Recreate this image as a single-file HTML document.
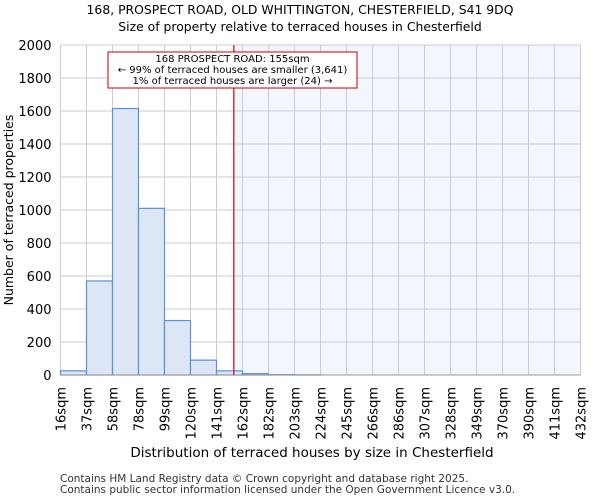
<!DOCTYPE html>
<html><head><meta charset="utf-8"><style>
body{margin:0;background:#fff;font-family:"DejaVu Sans","Liberation Sans",sans-serif;}
</style></head><body>
<svg width="600" height="500" viewBox="0 0 600 500" xmlns="http://www.w3.org/2000/svg" font-family="DejaVu Sans, Liberation Sans, sans-serif">
<text x="300" y="14" text-anchor="middle" font-size="12.4" fill="#000">168, PROSPECT ROAD, OLD WHITTINGTON, CHESTERFIELD, S41 9DQ</text>
<text x="300" y="31" text-anchor="middle" font-size="12.4" fill="#000">Size of property relative to terraced houses in Chesterfield</text>
<g id="plot"></g>
<text x="312" y="457" text-anchor="middle" font-size="13.5">Distribution of terraced houses by size in Chesterfield</text>
<text transform="translate(13,210) rotate(-90)" text-anchor="middle" font-size="12.5">Number of terraced properties</text>
<text x="60" y="482" font-size="10.5" fill="#333">Contains HM Land Registry data © Crown copyright and database right 2025.</text>
<text x="60" y="493" font-size="10.5" fill="#333">Contains public sector information licensed under the Open Government Licence v3.0.</text>
</svg>
<script>
const binLabels=["16sqm","37sqm","58sqm","78sqm","99sqm","120sqm","141sqm","162sqm","182sqm","203sqm","224sqm","245sqm","266sqm","286sqm","307sqm","328sqm","349sqm","370sqm","390sqm","411sqm","432sqm"];
const binStarts=[16,37,58,78,99,120,141,162,182,203,224,245,266,286,307,328,349,370,390,411,432];
const counts=[25,570,1615,1010,330,90,25,8,2,1,0,0,0,0,0,0,0,0,0,0];
const yTicks=[0,200,400,600,800,1000,1200,1400,1600,1800,2000];
const propertySize=155;
const annotationLines=["168 PROSPECT ROAD: 155sqm","← 99% of terraced houses are smaller (3,641)","1% of terraced houses are larger (24) →"];
const NS="http://www.w3.org/2000/svg";
const g=document.getElementById('plot');
const X0=60.5,X1=580.5,Y0=375,Y1=45,YMAX=2000;
const nb=counts.length,bw=(X1-X0)/nb;
const xb=i=>X0+i*bw;
const y=v=>Y0-(v/YMAX)*(Y0-Y1);
function xv(v){for(let i=0;i<binStarts.length-1;i++){if(v<=binStarts[i+1])return xb(i)+(v-binStarts[i])/(binStarts[i+1]-binStarts[i])*bw;}return X1;}
function mk(t,a){const e=document.createElementNS(NS,t);for(const k in a)e.setAttribute(k,a[k]);g.appendChild(e);return e;}
const rx=xv(propertySize);
mk('rect',{x:X0,y:Y1,width:X1-X0,height:Y0-Y1,fill:'#fff'});
const sh=mk('rect',{x:rx,y:Y1,width:X1-rx,height:Y0-Y1,fill:'#f3f6fd'});


yTicks.forEach(t=>{
 const l=mk('line',{x1:X0,x2:X1,y1:y(t),y2:y(t),stroke:'#cccccc','stroke-width':1});
 
 
 const tx=mk('text',{x:X0-9,y:y(t)+5,'text-anchor':'end','font-size':13});
 tx.textContent=t;
 
 
});
for(let i=0;i<=nb;i++){
 const l=mk('line',{x1:xb(i),x2:xb(i),y1:Y1,y2:Y0,stroke:'#cccccc','stroke-width':1});
 
 
}
counts.forEach((c,i)=>{
 if(c<=0)return;
 const r=mk('rect',{x:xb(i),y:y(c),width:bw,height:Y0-y(c),fill:'#dce6f4',stroke:'#5b8fd6','stroke-width':1.2});
 
 
});
binLabels.forEach((lb,i)=>{
 const tx=mk('text',{transform:`translate(${xb(i)+5},387) rotate(-90)`,'text-anchor':'end','font-size':13});
 tx.textContent=lb;
 
 
});
const ax=mk('line',{x1:X0,x2:X1,y1:Y0,y2:Y0,stroke:'#999',"stroke-width":1});


const ml=mk('line',{x1:rx,x2:rx,y1:Y1,y2:Y0,stroke:'#cc0000','stroke-width':1.2});


const box=mk('rect',{x:108,y:52,width:249,height:36,fill:'#fff',stroke:'#cc0000','stroke-width':1});


annotationLines.forEach((s,i)=>{
 const tx=mk('text',{x:232.5,y:62+i*11,'text-anchor':'middle','font-size':10});
 tx.textContent=s;
 
 
});
</script>
</body></html>
